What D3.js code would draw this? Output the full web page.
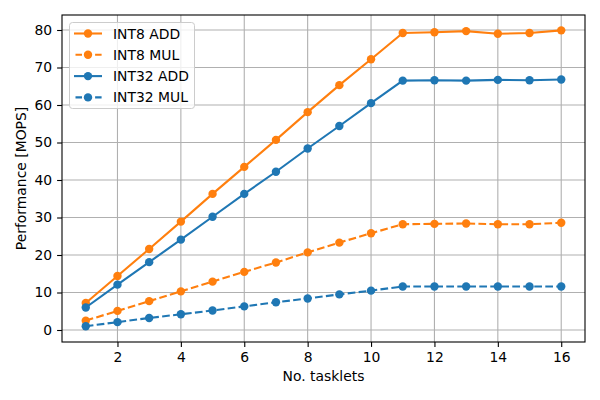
<!DOCTYPE html>
<html>
<head>
<meta charset="utf-8">
<script src="https://cdn.jsdelivr.net/npm/d3@7"></script>
<style>
  body { margin: 0; background: #fff; }
  text { font-family: "DejaVu Sans", sans-serif; }
</style>
</head>
<body>
<div id="chart"></div>
<script>
const tasklets = [1, 2, 3, 4, 5, 6, 7, 8, 9, 10, 11, 12, 13, 14, 15, 16];
const int8Add = [7.2, 14.4, 21.6, 28.9, 36.3, 43.5, 50.7, 58.1, 65.3, 72.2, 79.2, 79.4, 79.7, 79.0, 79.2, 79.9];
const int8Mul = [2.5, 5.1, 7.7, 10.3, 12.9, 15.5, 18.0, 20.7, 23.3, 25.8, 28.2, 28.3, 28.4, 28.2, 28.2, 28.6];
const int32Add = [6.0, 12.1, 18.1, 24.1, 30.2, 36.3, 42.2, 48.4, 54.4, 60.5, 66.5, 66.6, 66.5, 66.7, 66.6, 66.8];
const int32Mul = [1.0, 2.1, 3.2, 4.2, 5.2, 6.3, 7.4, 8.4, 9.5, 10.5, 11.6, 11.6, 11.6, 11.6, 11.6, 11.6];
const xTicks = [2, 4, 6, 8, 10, 12, 14, 16];
const yTicks = [0, 10, 20, 30, 40, 50, 60, 70, 80];

const series = [
  { name: "INT8 ADD", values: int8Add, color: "#ff7f0e", dash: null },
  { name: "INT8 MUL", values: int8Mul, color: "#ff7f0e", dash: "7.7,3.3" },
  { name: "INT32 ADD", values: int32Add, color: "#1f77b4", dash: null },
  { name: "INT32 MUL", values: int32Mul, color: "#1f77b4", dash: "7.7,3.3" }
];

const W = 600, H = 400;
const m = { left: 62, right: 15, top: 15, bottom: 58 };

const svg = d3.select("#chart").append("svg")
  .attr("width", W).attr("height", H);

const x = d3.scaleLinear().domain([0.25, 16.75]).range([m.left, W - m.right]);
const y = d3.scaleLinear().domain([-3.2, 84]).range([H - m.bottom, m.top]);

// grid
svg.append("g").selectAll("line").data(xTicks).join("line")
  .attr("x1", d => x(d)).attr("x2", d => x(d))
  .attr("y1", m.top).attr("y2", H - m.bottom)
  .attr("stroke", "#b0b0b0").attr("stroke-width", 1.1);
svg.append("g").selectAll("line").data(yTicks).join("line")
  .attr("x1", m.left).attr("x2", W - m.right)
  .attr("y1", d => y(d)).attr("y2", d => y(d))
  .attr("stroke", "#b0b0b0").attr("stroke-width", 1.1);

// axes
const xAxis = svg.append("g")
  .attr("transform", `translate(0,${H - m.bottom})`)
  .call(d3.axisBottom(x).tickValues(xTicks).tickSize(4.9).tickPadding(4.9));
const yAxis = svg.append("g")
  .attr("transform", `translate(${m.left},0)`)
  .call(d3.axisLeft(y).tickValues(yTicks).tickSize(4.9).tickPadding(4.9));
[xAxis, yAxis].forEach(a => {
  a.select(".domain").remove();
  a.selectAll("text").attr("font-size", 13.9).attr("fill", "#000")
    .attr("font-family", "DejaVu Sans, sans-serif");
  a.selectAll("line").attr("stroke", "#000").attr("stroke-width", 1.1);
});

// lines and markers
const line = d3.line().x((d, i) => x(tasklets[i])).y(d => y(d));
series.forEach(s => {
  svg.append("path").datum(s.values)
    .attr("d", line).attr("fill", "none")
    .attr("stroke", s.color).attr("stroke-width", 2.1)
    .attr("stroke-dasharray", s.dash);
  svg.append("g").selectAll("circle").data(s.values).join("circle")
    .attr("cx", (d, i) => x(tasklets[i])).attr("cy", d => y(d))
    .attr("r", 4.2).attr("fill", s.color);
});

// frame
svg.append("rect")
  .attr("x", m.left).attr("y", m.top)
  .attr("width", W - m.left - m.right).attr("height", H - m.top - m.bottom)
  .attr("fill", "none").attr("stroke", "#000").attr("stroke-width", 1.1);

// labels
svg.append("text")
  .attr("x", (m.left + W - m.right) / 2).attr("y", 381)
  .attr("text-anchor", "middle").attr("font-size", 13.9)
  .text("No. tasklets");
svg.append("text")
  .attr("transform", `translate(26,${(m.top + H - m.bottom) / 2}) rotate(-90)`)
  .attr("text-anchor", "middle").attr("font-size", 13.9)
  .text("Performance [MOPS]");

// legend
const lg = svg.append("g");
lg.append("rect")
  .attr("x", 69.5).attr("y", 22.5).attr("width", 125).attr("height", 86)
  .attr("rx", 3).attr("fill", "#fff").attr("fill-opacity", 0.8)
  .attr("stroke", "#cccccc").attr("stroke-width", 1);
series.forEach((s, i) => {
  const cy = 33.5 + i * 21.3;
  lg.append("line")
    .attr("x1", 74).attr("x2", 102).attr("y1", cy).attr("y2", cy)
    .attr("stroke", s.color).attr("stroke-width", 2.1)
    .attr("stroke-dasharray", s.dash ? "6.5,3.3" : null)
    .attr("stroke-dashoffset", s.dash ? -1.5 : null);
  lg.append("circle").attr("cx", 88).attr("cy", cy).attr("r", 4.2).attr("fill", s.color);
  lg.append("text").attr("x", 113).attr("y", cy + 5)
    .attr("font-size", 13.9).text(s.name);
});
</script>
</body>
</html>
